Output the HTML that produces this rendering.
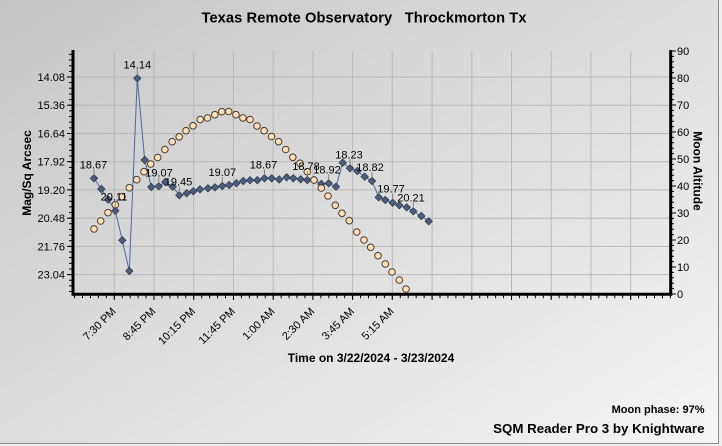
<!DOCTYPE html>
<html><head><meta charset="utf-8"><style>
html,body{margin:0;padding:0;background:#eee;}
svg{display:block;font-family:"Liberation Sans",Arial,sans-serif;}
</style></head><body>
<svg width="722" height="446" viewBox="0 0 722 446" xmlns="http://www.w3.org/2000/svg">
<defs>
<linearGradient id="bg" x1="0" y1="0" x2="1" y2="1">
<stop offset="0" stop-color="#c6c6c6"/><stop offset="1" stop-color="#f5f5f5"/>
</linearGradient>
</defs>
<rect x="0" y="0" width="722" height="446" fill="#efefef"/>
<rect x="0" y="0" width="719" height="444" fill="url(#bg)"/>
<line x1="718.5" y1="0" x2="718.5" y2="444" stroke="#8c8c8c" stroke-width="1"/>
<line x1="0" y1="443.5" x2="719" y2="443.5" stroke="#8c8c8c" stroke-width="1"/>

<text x="201.5" y="22.7" font-size="14.7" font-weight="bold" fill="#000" textLength="325" lengthAdjust="spacing" xml:space="preserve">Texas Remote Observatory   Throckmorton Tx</text>

<g stroke="#b8b8b8" stroke-width="1">
<line x1="73" y1="77" x2="670" y2="77"/>
<line x1="73" y1="105.2" x2="670" y2="105.2"/>
<line x1="73" y1="133.5" x2="670" y2="133.5"/>
<line x1="73" y1="161.7" x2="670" y2="161.7"/>
<line x1="73" y1="189.9" x2="670" y2="189.9"/>
<line x1="73" y1="218.2" x2="670" y2="218.2"/>
<line x1="73" y1="246.4" x2="670" y2="246.4"/>
<line x1="73" y1="274.6" x2="670" y2="274.6"/>
<line x1="114.3" y1="51" x2="114.3" y2="294"/>
<line x1="154" y1="51" x2="154" y2="294"/>
<line x1="193.7" y1="51" x2="193.7" y2="294"/>
<line x1="233.5" y1="51" x2="233.5" y2="294"/>
<line x1="273.2" y1="51" x2="273.2" y2="294"/>
<line x1="312.9" y1="51" x2="312.9" y2="294"/>
<line x1="352.6" y1="51" x2="352.6" y2="294"/>
<line x1="392.3" y1="51" x2="392.3" y2="294"/>
<line x1="432.1" y1="51" x2="432.1" y2="294"/>
<line x1="471.8" y1="51" x2="471.8" y2="294"/>
<line x1="511.5" y1="51" x2="511.5" y2="294"/>
<line x1="551.2" y1="51" x2="551.2" y2="294"/>
<line x1="590.9" y1="51" x2="590.9" y2="294"/>
<line x1="630.7" y1="51" x2="630.7" y2="294"/>
</g>

<g stroke="#000">
<line x1="73" y1="50" x2="73" y2="295.5" stroke-width="3"/>
<line x1="71.5" y1="294.3" x2="672.2" y2="294.3" stroke-width="3"/>
<line x1="670.7" y1="50" x2="670.7" y2="295.5" stroke-width="3"/>
<line x1="70.5" y1="50" x2="70.5" y2="294" stroke-width="3" stroke-dasharray="1 4.646" stroke-dashoffset="1.73"/>
<g stroke-width="1">
<line x1="67" y1="77" x2="73" y2="77"/>
<line x1="67" y1="105.2" x2="73" y2="105.2"/>
<line x1="67" y1="133.5" x2="73" y2="133.5"/>
<line x1="67" y1="161.7" x2="73" y2="161.7"/>
<line x1="67" y1="189.9" x2="73" y2="189.9"/>
<line x1="67" y1="218.2" x2="73" y2="218.2"/>
<line x1="67" y1="246.4" x2="73" y2="246.4"/>
<line x1="67" y1="274.6" x2="73" y2="274.6"/>
</g>
<line x1="73" y1="296.8" x2="671" y2="296.8" stroke-width="3" stroke-dasharray="1 6.944" stroke-dashoffset="-1.08"/>
<g stroke-width="1">
<line x1="114.3" y1="294" x2="114.3" y2="300"/>
<line x1="154" y1="294" x2="154" y2="300"/>
<line x1="193.7" y1="294" x2="193.7" y2="300"/>
<line x1="233.5" y1="294" x2="233.5" y2="300"/>
<line x1="273.2" y1="294" x2="273.2" y2="300"/>
<line x1="312.9" y1="294" x2="312.9" y2="300"/>
<line x1="352.6" y1="294" x2="352.6" y2="300"/>
<line x1="392.3" y1="294" x2="392.3" y2="300"/>
<line x1="432.1" y1="294" x2="432.1" y2="300"/>
<line x1="471.8" y1="294" x2="471.8" y2="300"/>
<line x1="511.5" y1="294" x2="511.5" y2="300"/>
<line x1="551.2" y1="294" x2="551.2" y2="300"/>
<line x1="590.9" y1="294" x2="590.9" y2="300"/>
<line x1="630.7" y1="294" x2="630.7" y2="300"/>
</g>
<line x1="673" y1="51" x2="673" y2="294.5" stroke-width="2" stroke-dasharray="1 4.4" stroke-dashoffset="0.5"/>
<g stroke-width="1">
<line x1="671" y1="294" x2="676" y2="294"/>
<line x1="671" y1="267" x2="676" y2="267"/>
<line x1="671" y1="240" x2="676" y2="240"/>
<line x1="671" y1="213" x2="676" y2="213"/>
<line x1="671" y1="186" x2="676" y2="186"/>
<line x1="671" y1="159" x2="676" y2="159"/>
<line x1="671" y1="132" x2="676" y2="132"/>
<line x1="671" y1="105" x2="676" y2="105"/>
<line x1="671" y1="78" x2="676" y2="78"/>
<line x1="671" y1="51" x2="676" y2="51"/>
</g>
</g>

<g font-size="11" fill="#000" text-anchor="end">
<text x="65" y="81">14.08</text>
<text x="65" y="109.2">15.36</text>
<text x="65" y="137.5">16.64</text>
<text x="65" y="165.7">17.92</text>
<text x="65" y="193.9">19.20</text>
<text x="65" y="222.2">20.48</text>
<text x="65" y="250.4">21.76</text>
<text x="65" y="278.6">23.04</text>
</g>
<g font-size="11" fill="#000">
<text x="677" y="298">0</text>
<text x="677" y="271">10</text>
<text x="677" y="244">20</text>
<text x="677" y="217">30</text>
<text x="677" y="190">40</text>
<text x="677" y="163">50</text>
<text x="677" y="136">60</text>
<text x="677" y="109">70</text>
<text x="677" y="82">80</text>
<text x="677" y="55">90</text>
</g>
<text transform="translate(31,173) rotate(-90)" font-size="12" font-weight="bold" text-anchor="middle">Mag/Sq Arcsec</text>
<text transform="translate(693.4,171) rotate(90)" font-size="12" font-weight="bold" text-anchor="middle">Moon Altitude</text>
<text x="371" y="362" font-size="12" font-weight="bold" text-anchor="middle">Time on 3/22/2024 - 3/23/2024</text>

<g font-size="11" fill="#000" text-anchor="end">
<text transform="translate(116.5,312) rotate(-45)">7:30 PM</text>
<text transform="translate(156.2,312) rotate(-45)">8:45 PM</text>
<text transform="translate(195.9,312) rotate(-45)">10:15 PM</text>
<text transform="translate(235.7,312) rotate(-45)">11:45 PM</text>
<text transform="translate(275.4,312) rotate(-45)">1:00 AM</text>
<text transform="translate(315.1,312) rotate(-45)">2:30 AM</text>
<text transform="translate(354.8,312) rotate(-45)">3:45 AM</text>
<text transform="translate(394.5,312) rotate(-45)">5:15 AM</text>
</g>

<polyline fill="none" stroke="#4a69a6" stroke-width="1" points="94,178.3 101.3,189 108.2,199.5 115.3,210.7 122.3,240.3 129.3,271 137.3,78.3 144.7,160 151.3,187 158.7,186.3 165.3,182 172.7,186.7 179.3,195.3 186.7,193.3 193.3,191.3 200,189.3 208,188.3 215,187.3 222.3,186 229.2,185 236.4,183.2 243.3,181 250,180.2 257.3,180.2 264.5,178.3 271.7,178.3 279.2,179.5 286.7,177.3 293.3,178.3 300.7,179.3 307.3,180 314,180 321.3,184 328.7,183.3 336,186.7 342.7,162.7 350,168.3 357.3,171 364.7,176.7 372,181 378.7,197.3 385.3,200 392.7,202.7 399.3,205.3 406.7,207.3 413.3,211.3 421.3,216 428.7,221.3"/>

<g fill="#4d5d7d" stroke="#2b3448" stroke-width="0.7">
<path d="M94 174.6l3.7 3.7-3.7 3.7-3.7-3.7z"/>
<path d="M101.3 185.3l3.7 3.7-3.7 3.7-3.7-3.7z"/>
<path d="M108.2 195.8l3.7 3.7-3.7 3.7-3.7-3.7z"/>
<path d="M115.3 207l3.7 3.7-3.7 3.7-3.7-3.7z"/>
<path d="M122.3 236.6l3.7 3.7-3.7 3.7-3.7-3.7z"/>
<path d="M129.3 267.3l3.7 3.7-3.7 3.7-3.7-3.7z"/>
<path d="M137.3 74.6l3.7 3.7-3.7 3.7-3.7-3.7z"/>
<path d="M144.7 156.3l3.7 3.7-3.7 3.7-3.7-3.7z"/>
<path d="M151.3 183.3l3.7 3.7-3.7 3.7-3.7-3.7z"/>
<path d="M158.7 182.6l3.7 3.7-3.7 3.7-3.7-3.7z"/>
<path d="M165.3 178.3l3.7 3.7-3.7 3.7-3.7-3.7z"/>
<path d="M172.7 183l3.7 3.7-3.7 3.7-3.7-3.7z"/>
<path d="M179.3 191.6l3.7 3.7-3.7 3.7-3.7-3.7z"/>
<path d="M186.7 189.6l3.7 3.7-3.7 3.7-3.7-3.7z"/>
<path d="M193.3 187.6l3.7 3.7-3.7 3.7-3.7-3.7z"/>
<path d="M200 185.6l3.7 3.7-3.7 3.7-3.7-3.7z"/>
<path d="M208 184.6l3.7 3.7-3.7 3.7-3.7-3.7z"/>
<path d="M215 183.6l3.7 3.7-3.7 3.7-3.7-3.7z"/>
<path d="M222.3 182.3l3.7 3.7-3.7 3.7-3.7-3.7z"/>
<path d="M229.2 181.3l3.7 3.7-3.7 3.7-3.7-3.7z"/>
<path d="M236.4 179.5l3.7 3.7-3.7 3.7-3.7-3.7z"/>
<path d="M243.3 177.3l3.7 3.7-3.7 3.7-3.7-3.7z"/>
<path d="M250 176.5l3.7 3.7-3.7 3.7-3.7-3.7z"/>
<path d="M257.3 176.5l3.7 3.7-3.7 3.7-3.7-3.7z"/>
<path d="M264.5 174.6l3.7 3.7-3.7 3.7-3.7-3.7z"/>
<path d="M271.7 174.6l3.7 3.7-3.7 3.7-3.7-3.7z"/>
<path d="M279.2 175.8l3.7 3.7-3.7 3.7-3.7-3.7z"/>
<path d="M286.7 173.6l3.7 3.7-3.7 3.7-3.7-3.7z"/>
<path d="M293.3 174.6l3.7 3.7-3.7 3.7-3.7-3.7z"/>
<path d="M300.7 175.6l3.7 3.7-3.7 3.7-3.7-3.7z"/>
<path d="M307.3 176.3l3.7 3.7-3.7 3.7-3.7-3.7z"/>
<path d="M314 176.3l3.7 3.7-3.7 3.7-3.7-3.7z"/>
<path d="M321.3 180.3l3.7 3.7-3.7 3.7-3.7-3.7z"/>
<path d="M328.7 179.6l3.7 3.7-3.7 3.7-3.7-3.7z"/>
<path d="M336 183l3.7 3.7-3.7 3.7-3.7-3.7z"/>
<path d="M342.7 159l3.7 3.7-3.7 3.7-3.7-3.7z"/>
<path d="M350 164.6l3.7 3.7-3.7 3.7-3.7-3.7z"/>
<path d="M357.3 167.3l3.7 3.7-3.7 3.7-3.7-3.7z"/>
<path d="M364.7 173l3.7 3.7-3.7 3.7-3.7-3.7z"/>
<path d="M372 177.3l3.7 3.7-3.7 3.7-3.7-3.7z"/>
<path d="M378.7 193.6l3.7 3.7-3.7 3.7-3.7-3.7z"/>
<path d="M385.3 196.3l3.7 3.7-3.7 3.7-3.7-3.7z"/>
<path d="M392.7 199l3.7 3.7-3.7 3.7-3.7-3.7z"/>
<path d="M399.3 201.6l3.7 3.7-3.7 3.7-3.7-3.7z"/>
<path d="M406.7 203.6l3.7 3.7-3.7 3.7-3.7-3.7z"/>
<path d="M413.3 207.6l3.7 3.7-3.7 3.7-3.7-3.7z"/>
<path d="M421.3 212.3l3.7 3.7-3.7 3.7-3.7-3.7z"/>
<path d="M428.7 217.6l3.7 3.7-3.7 3.7-3.7-3.7z"/>
</g>

<g fill="#ffdfb8" stroke="#4a3a30" stroke-width="1">
<circle cx="94" cy="229" r="3.3"/>
<circle cx="100.7" cy="221" r="3.3"/>
<circle cx="108" cy="212.7" r="3.3"/>
<circle cx="115.3" cy="204.7" r="3.3"/>
<circle cx="122" cy="196.7" r="3.3"/>
<circle cx="129.3" cy="187.7" r="3.3"/>
<circle cx="136.7" cy="179.7" r="3.3"/>
<circle cx="144" cy="171.7" r="3.3"/>
<circle cx="150.7" cy="164" r="3.3"/>
<circle cx="157.7" cy="157.5" r="3.3"/>
<circle cx="164.9" cy="149.5" r="3.3"/>
<circle cx="172.2" cy="141.7" r="3.3"/>
<circle cx="179.2" cy="136.8" r="3.3"/>
<circle cx="186" cy="130.7" r="3.3"/>
<circle cx="193" cy="125.8" r="3.3"/>
<circle cx="200.2" cy="119.5" r="3.3"/>
<circle cx="207.5" cy="118" r="3.3"/>
<circle cx="214.8" cy="114.7" r="3.3"/>
<circle cx="221.8" cy="111.7" r="3.3"/>
<circle cx="228.7" cy="111.5" r="3.3"/>
<circle cx="235.9" cy="114.7" r="3.3"/>
<circle cx="242.9" cy="117.9" r="3.3"/>
<circle cx="250" cy="119.5" r="3.3"/>
<circle cx="257" cy="126" r="3.3"/>
<circle cx="264.1" cy="130.7" r="3.3"/>
<circle cx="271.5" cy="136.5" r="3.3"/>
<circle cx="278.6" cy="141.7" r="3.3"/>
<circle cx="285.7" cy="149.5" r="3.3"/>
<circle cx="292.8" cy="157.3" r="3.3"/>
<circle cx="300" cy="163.3" r="3.3"/>
<circle cx="307.3" cy="171.7" r="3.3"/>
<circle cx="314" cy="180" r="3.3"/>
<circle cx="321.3" cy="188" r="3.3"/>
<circle cx="328" cy="196" r="3.3"/>
<circle cx="335.3" cy="205.3" r="3.3"/>
<circle cx="342" cy="213.3" r="3.3"/>
<circle cx="349.3" cy="220.7" r="3.3"/>
<circle cx="356.7" cy="232" r="3.3"/>
<circle cx="364" cy="240" r="3.3"/>
<circle cx="370.7" cy="247.3" r="3.3"/>
<circle cx="378" cy="255.7" r="3.3"/>
<circle cx="385.3" cy="264" r="3.3"/>
<circle cx="392" cy="272" r="3.3"/>
<circle cx="399.3" cy="280" r="3.3"/>
<circle cx="406" cy="289" r="3.3"/>
</g>

<g stroke="#808080" stroke-width="1">
<line x1="94" y1="169.3" x2="94" y2="175.3"/>
<line x1="115.3" y1="201.7" x2="115.3" y2="207.7"/>
<line x1="137.3" y1="69.3" x2="137.3" y2="75.3"/>
<line x1="158.7" y1="177.3" x2="158.7" y2="183.3"/>
<line x1="179.3" y1="186.3" x2="179.3" y2="192.3"/>
<line x1="222.3" y1="177" x2="222.3" y2="183"/>
<line x1="264.5" y1="169.3" x2="264.5" y2="175.3"/>
<line x1="307.3" y1="171" x2="307.3" y2="177"/>
<line x1="328.7" y1="174.3" x2="328.7" y2="180.3"/>
<line x1="350" y1="159.3" x2="350" y2="165.3"/>
<line x1="372" y1="172" x2="372" y2="178"/>
<line x1="392.7" y1="193.7" x2="392.7" y2="199.7"/>
<line x1="413.3" y1="202.3" x2="413.3" y2="208.3"/>
</g>
<g font-size="11" fill="#000" text-anchor="middle">
<text x="93.5" y="168.3">18.67</text>
<text x="114" y="200.7">20.11</text>
<text x="137.3" y="68.3">14.14</text>
<text x="159" y="176.3">19.07</text>
<text x="178.5" y="185.3">19.45</text>
<text x="222.3" y="176">19.07</text>
<text x="263.5" y="168.3">18.67</text>
<text x="306" y="170">18.78</text>
<text x="327" y="173.3">18.92</text>
<text x="349" y="158.3">18.23</text>
<text x="370" y="171">18.82</text>
<text x="391" y="192.7">19.77</text>
<text x="411" y="201.3">20.21</text>
</g>

<text x="704.5" y="413" font-size="11" font-weight="bold" text-anchor="end">Moon phase: 97%</text>
<text x="704.5" y="433" font-size="13.3" font-weight="bold" text-anchor="end">SQM Reader Pro 3 by Knightware</text>
</svg>
</body></html>
